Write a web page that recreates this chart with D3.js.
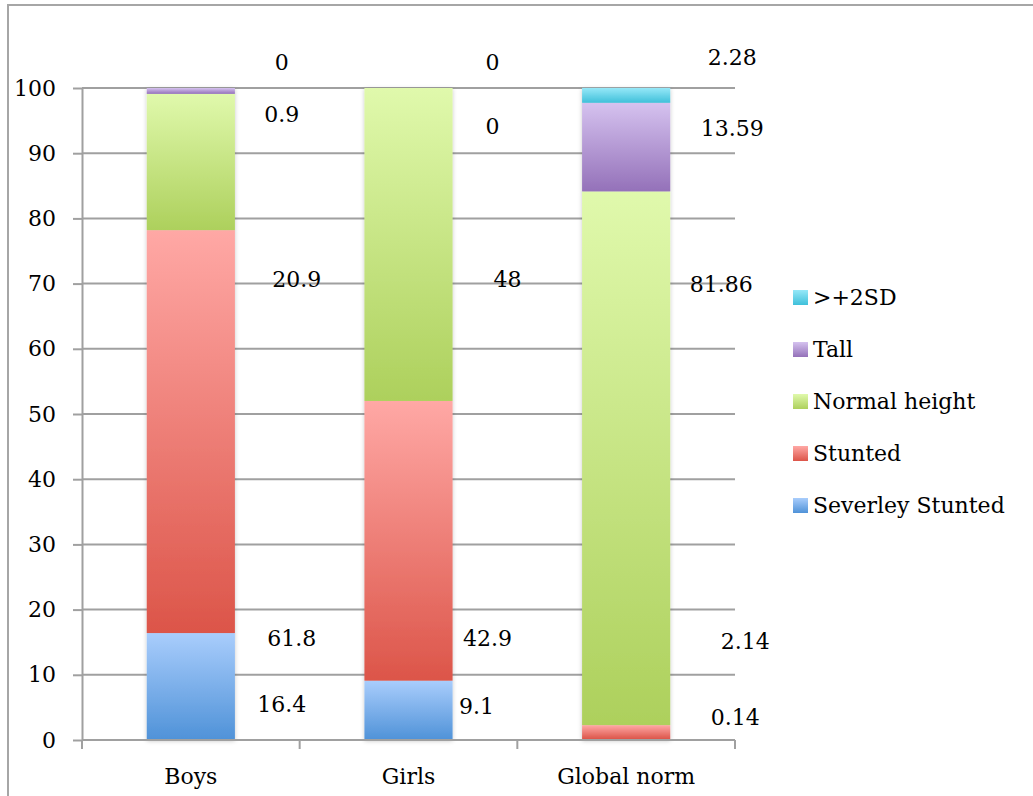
<!DOCTYPE html>
<html>
<head>
<meta charset="utf-8">
<script src="https://cdn.jsdelivr.net/npm/d3@7"></script>
<style>
  html, body { margin: 0; padding: 0; background: #fff; }
  svg { display: block; }
  text { font-family: "DejaVu Serif", serif; font-size: 22px; fill: #000; }
</style>
</head>
<body>
<svg id="chart" width="1033" height="796"></svg>
<script>
// Height-for-age categories, stacked bottom to top
const categories = ["Boys", "Girls", "Global norm"];
const seriesNames = ["Severley Stunted", "Stunted", "Normal height", "Tall", ">+2SD"];
const severelyStunted = [16.4, 9.1, 0.14];
const stunted = [61.8, 42.9, 2.14];
const normalHeight = [20.9, 48, 81.86];
const tall = [0.9, 0, 13.59];
const above2SD = [0, 0, 2.28];
const yTicks = [0, 10, 20, 30, 40, 50, 60, 70, 80, 90, 100];

// Gradient stops (top, bottom) for each series
const seriesColors = [
  ["#a9cdfc", "#4f92d8"],
  ["#ffa8a5", "#dc5549"],
  ["#e0f9ac", "#add05c"],
  ["#d5c2ef", "#9471b9"],
  ["#96e8f8", "#3fc0da"]
];

// Where each value label sits: horizontal offset from the bar centre (px)
// and vertical anchor in axis units, per category, per series (bottom to top)
const labelDx = [
  [91, 101, 106, 91, 91],
  [68, 79, 99, 84, 84],
  [109, 119, 95, 106, 106]
];
const labelAt = [
  [5.5, 15.6, 70.7, 96.0, 104.0],
  [5.2, 15.6, 70.7, 94.2, 104.0],
  [3.5, 15.2, 69.9, 93.9, 104.8]
];

const seriesValues = [severelyStunted, stunted, normalHeight, tall, above2SD];

const svg = d3.select("#chart");
const defs = svg.append("defs");

seriesColors.forEach((c, i) => {
  const g = defs.append("linearGradient")
    .attr("id", "grad" + i)
    .attr("x1", 0).attr("y1", 0).attr("x2", 0).attr("y2", 1);
  g.append("stop").attr("offset", "0%").attr("stop-color", c[0]);
  g.append("stop").attr("offset", "100%").attr("stop-color", c[1]);
});

const shadow = defs.append("filter").attr("id", "barShadow")
  .attr("x", "-20%").attr("y", "-5%").attr("width", "140%").attr("height", "110%");
shadow.append("feDropShadow")
  .attr("dx", 0).attr("dy", 1).attr("stdDeviation", 2)
  .attr("flood-color", "#000").attr("flood-opacity", 0.22);

// Outer frame (top and left edges visible)
svg.append("path")
  .attr("d", "M8,796 L8,5 L1033,5")
  .attr("fill", "none").attr("stroke", "#a6a6a6").attr("stroke-width", 2);

const plotLeft = 82, plotRight = 735, plotTop = 88, plotBottom = 740;

const y = d3.scaleLinear().domain([0, 100]).range([plotBottom, plotTop]);
const x = d3.scaleBand().domain(categories).range([plotLeft, plotRight]).padding(0);
const barW = x.bandwidth() * 0.405;

// Gridlines
svg.append("g")
  .selectAll("line")
  .data(yTicks.filter(t => t > 0))
  .join("line")
  .attr("x1", plotLeft).attr("x2", plotRight)
  .attr("y1", d => y(d)).attr("y2", d => y(d))
  .attr("stroke", "#a0a0a0").attr("stroke-width", 2);

// Y axis
const yAxis = svg.append("g")
  .attr("transform", `translate(${plotLeft},0)`)
  .call(d3.axisLeft(y).tickValues(yTicks).tickSize(9).tickPadding(17).tickSizeOuter(0));
yAxis.select(".domain").attr("stroke", "#a0a0a0").attr("stroke-width", 2);
yAxis.selectAll(".tick line").attr("stroke", "#a0a0a0").attr("stroke-width", 2);
yAxis.selectAll(".tick text")
  .style("font-family", "DejaVu Serif, serif").style("font-size", "22px").attr("fill", "#000");

// Stacked bars
const stackData = categories.map((c, ci) => {
  const row = { category: c };
  seriesNames.forEach((s, si) => { row[s] = seriesValues[si][ci]; });
  return row;
});
const stacked = d3.stack().keys(seriesNames)(stackData);

const barLayer = svg.append("g").attr("filter", "url(#barShadow)");
stacked.forEach((layer, si) => {
  barLayer.append("g")
    .selectAll("rect")
    .data(layer.filter(d => d[1] - d[0] > 0))
    .join("rect")
    .attr("x", d => x(d.data.category) + (x.bandwidth() - barW) / 2)
    .attr("width", barW)
    .attr("y", d => y(d[1]))
    .attr("height", d => y(d[0]) - y(d[1]))
    .attr("fill", `url(#grad${si})`);
});

// X axis
const xAxis = svg.append("g")
  .attr("transform", `translate(0,${plotBottom})`);
xAxis.append("line")
  .attr("x1", plotLeft).attr("x2", plotRight)
  .attr("stroke", "#a0a0a0").attr("stroke-width", 2);
const bandEdges = categories.map(c => x(c)).concat([plotRight]);
xAxis.selectAll("line.tick")
  .data(bandEdges)
  .join("line")
  .attr("class", "tick")
  .attr("x1", d => d).attr("x2", d => d)
  .attr("y1", 0).attr("y2", 9)
  .attr("stroke", "#a0a0a0").attr("stroke-width", 2);
xAxis.selectAll("text")
  .data(categories)
  .join("text")
  .attr("x", d => x(d) + x.bandwidth() / 2)
  .attr("y", 44)
  .attr("text-anchor", "middle")
  .text(d => d);

// Value labels
const labels = svg.append("g");
categories.forEach((c, ci) => {
  seriesNames.forEach((s, si) => {
    labels.append("text")
      .attr("x", x(c) + x.bandwidth() / 2 + labelDx[ci][si])
      .attr("y", y(labelAt[ci][si]))
      .attr("dy", "0.36em")
      .attr("text-anchor", "middle")
      .text(seriesValues[si][ci]);
  });
});

// Legend, top entry is the top series
const legend = svg.append("g").attr("transform", "translate(793,290)");
const legendOrder = seriesNames.map((s, i) => i).reverse();
legendOrder.forEach((si, k) => {
  const g = legend.append("g").attr("transform", `translate(0,${k * 52})`);
  g.append("rect").attr("width", 15).attr("height", 15).attr("fill", `url(#grad${si})`);
  g.append("text").attr("x", 20).attr("y", 7.5).attr("dy", "0.36em").text(seriesNames[si]);
});
</script>
</body>
</html>
